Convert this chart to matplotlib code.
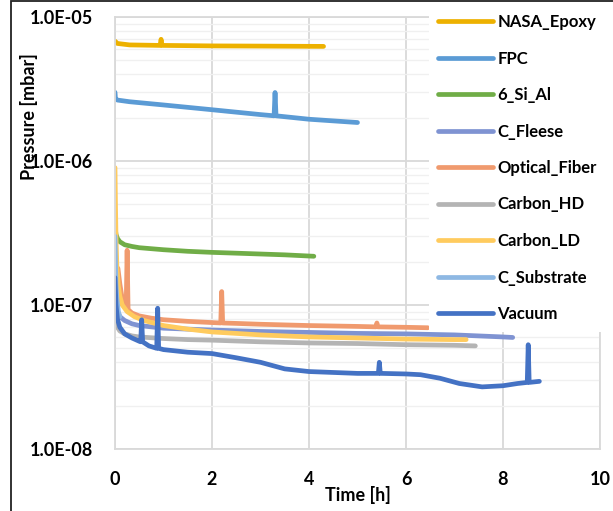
import matplotlib.pyplot as plt
import matplotlib.ticker as mticker
from matplotlib.patches import Rectangle
import numpy as np

plt.rcParams['font.family'] = ['Lato', 'DejaVu Sans']
plt.rcParams['font.weight'] = 'bold'

# series (time in h, pressure in mbar)
names = ['NASA_Epoxy', 'FPC', '6_Si_Al', 'C_Fleese', 'Optical_Fiber',
         'Carbon_HD', 'Carbon_LD', 'C_Substrate', 'Vacuum']
colors = ['#EDB100', '#5B9BD5', '#70AD47', '#7F93D2', '#F09A6E',
          '#B4B4B4', '#FFCB5E', '#8EB8E3', '#4472C4']

t_nasa = [0, 0.05, 0.3, 0.93, 0.95, 0.97, 2, 3, 4.3]
p_nasa = [6.8e-6, 6.55e-6, 6.4e-6, 6.35e-6, 7.0e-6, 6.35e-6, 6.3e-6, 6.28e-6, 6.25e-6]

t_fpc = [0, 0.01, 0.05, 0.3, 1, 2, 3, 3.28, 3.3, 3.32, 4, 5]
p_fpc = [3.0e-6, 2.7e-6, 2.65e-6, 2.58e-6, 2.45e-6, 2.27e-6, 2.1e-6, 2.06e-6, 2.99e-6, 2.06e-6, 1.95e-6, 1.85e-6]

t_si = [0, 0.02, 0.05, 0.1, 0.2, 0.35, 0.5, 1, 1.5, 2, 2.5, 3, 3.5, 4.1]
p_si = [3.5e-7, 3.1e-7, 2.9e-7, 2.75e-7, 2.62e-7, 2.55e-7, 2.5e-7, 2.42e-7,
        2.36e-7, 2.32e-7, 2.29e-7, 2.26e-7, 2.23e-7, 2.18e-7]

t_fleese = [0, 0.05, 0.1, 0.2, 0.35, 0.5, 1, 2, 3, 4, 5, 6, 7, 8, 8.2]
p_fleese = [1.05e-7, 9e-8, 8.3e-8, 7.8e-8, 7.4e-8, 7.2e-8, 6.9e-8, 6.7e-8,
            6.55e-8, 6.45e-8, 6.35e-8, 6.3e-8, 6.2e-8, 6.0e-8, 5.95e-8]

t_fiber = [0.06, 0.1, 0.15, 0.2, 0.23, 0.25, 0.27, 0.35, 0.5, 0.75, 1, 1.5, 2,
           2.18, 2.2, 2.22, 2.5, 3, 4, 5, 5.38, 5.4, 5.42, 6, 6.45]
p_fiber = [1.8e-7, 1.4e-7, 1.1e-7, 9.8e-8, 9.4e-8, 2.4e-7, 9.3e-8, 8.8e-8,
           8.4e-8, 8.1e-8, 7.9e-8, 7.7e-8, 7.55e-8, 7.5e-8, 1.24e-7, 7.5e-8,
           7.45e-8, 7.35e-8, 7.2e-8, 7.1e-8, 7.05e-8, 7.5e-8, 7.05e-8, 7.0e-8, 6.95e-8]

t_hd = [0, 0.02, 0.05, 0.1, 0.2, 0.35, 0.5, 1, 1.5, 2, 3, 4, 5, 6, 7, 7.43]
p_hd = [1.0e-7, 8e-8, 7e-8, 6.6e-8, 6.3e-8, 6.1e-8, 6.0e-8, 5.85e-8, 5.75e-8,
        5.7e-8, 5.55e-8, 5.45e-8, 5.4e-8, 5.3e-8, 5.25e-8, 5.2e-8]

t_ld = [0, 0.01, 0.02, 0.04, 0.07, 0.1, 0.15, 0.25, 0.4, 0.6, 1, 1.5, 2, 3, 4, 5, 6, 7, 7.24]
p_ld = [9e-7, 5e-7, 3e-7, 1.8e-7, 1.35e-7, 1.15e-7, 1.0e-7, 9e-8, 8.3e-8, 7.8e-8,
        7.2e-8, 6.8e-8, 6.5e-8, 6.2e-8, 6.0e-8, 5.9e-8, 5.8e-8, 5.75e-8, 5.75e-8]

t_sub = [0, 0.01, 0.02, 0.04, 0.07, 0.1]
p_sub = [3e-7, 2e-7, 1.4e-7, 1.1e-7, 9e-8, 8.3e-8]

t_vac = [0, 0.02, 0.05, 0.1, 0.2, 0.35, 0.5, 0.53, 0.55, 0.57, 0.7, 0.86, 0.88, 0.9,
         1.0, 1.5, 2.0, 2.5, 3.0, 3.5, 4.0, 4.5, 5.0, 5.43, 5.45, 5.47, 5.5, 6.0,
         6.3, 6.7, 7.1, 7.57, 8.0, 8.3, 8.5, 8.52, 8.54, 8.75]
p_vac = [1.55e-7, 1.0e-7, 8e-8, 7e-8, 6.3e-8, 5.9e-8, 5.6e-8, 5.55e-8, 7.9e-8,
         5.55e-8, 5.2e-8, 5.0e-8, 9.5e-8, 5.0e-8, 4.9e-8, 4.7e-8, 4.6e-8, 4.3e-8,
         4.0e-8, 3.6e-8, 3.45e-8, 3.4e-8, 3.35e-8, 3.35e-8, 4.0e-8, 3.35e-8, 3.35e-8,
         3.32e-8, 3.28e-8, 3.1e-8, 2.85e-8, 2.7e-8, 2.75e-8, 2.85e-8, 2.9e-8, 5.3e-8,
         2.9e-8, 2.95e-8]

series = [(t_nasa, p_nasa), (t_fpc, p_fpc), (t_si, p_si), (t_fleese, p_fleese),
          (t_fiber, p_fiber), (t_hd, p_hd), (t_ld, p_ld), (t_sub, p_sub), (t_vac, p_vac)]

W, H = 613, 511
fig = plt.figure(figsize=(W / 100, H / 100), dpi=100)
ax = fig.add_axes([115 / W, 1 - 449 / H, 485 / W, 432 / H])

lines = []
for (t, p), name, c in zip(series, names, colors):
    ln, = ax.plot(t, p, color=c, lw=3.4, label=name, solid_capstyle='round')
    lines.append(ln)

ax.set_yscale('log')
ax.set_xlim(0, 10)
ax.set_ylim(1e-8, 1e-5)
ax.set_xticks([0, 2, 4, 6, 8, 10])
ax.yaxis.set_major_locator(mticker.FixedLocator([1e-8, 1e-7, 1e-6, 1e-5]))
ax.yaxis.set_major_formatter(mticker.FuncFormatter(lambda v, pos: f'{v:.1E}'))
ax.yaxis.set_minor_locator(mticker.LogLocator(base=10, subs=np.arange(2, 10)))
ax.yaxis.set_minor_formatter(mticker.NullFormatter())

ax.grid(True, which='major', color='#D9D9D9', lw=1.3)
ax.grid(True, which='minor', axis='y', color='#F0F0F0', lw=1.0)
ax.set_axisbelow(True)
for s in ax.spines.values():
    s.set_color('#D9D9D9')
    s.set_linewidth(1.3)
ax.tick_params(which='both', length=0)
ax.tick_params(axis='y', pad=16, labelsize=13)
ax.tick_params(axis='x', pad=16, labelsize=13)

fig.text(358 / W, 1 - 495 / H, 'Time [h]', ha='center', va='center', fontsize=13, fontweight='bold')
fig.text(29 / W, 1 - 117 / H, 'Pressure [mbar]', ha='center', va='center',
         rotation=90, fontsize=13, fontweight='bold')

# white box behind the legend covering the right part of the plot
fig.add_artist(Rectangle((429 / W, 1 - 332 / H), 190 / W, 330 / H,
                         transform=fig.transFigure, facecolor='white', edgecolor='none', zorder=1))
fig.legend(handles=lines, loc='upper left', bbox_to_anchor=(438 / W, 1 - 14 / H),
           frameon=False, fontsize=12, handlelength=3.3, handletextpad=0.25,
           labelspacing=1.23, borderaxespad=0, borderpad=0)

# outer border (cropped on right and bottom)
fig.add_artist(Rectangle((10.5 / W, -0.05), 1.1, 1.05 - 1.5 / H,
                         transform=fig.transFigure, facecolor='none',
                         edgecolor='#222222', lw=1.3, zorder=6))

fig.savefig('out.png', dpi=100)
